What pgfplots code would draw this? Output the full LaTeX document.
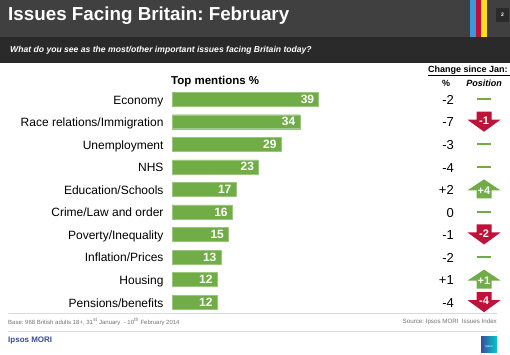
\documentclass[border=0pt]{standalone}
\usepackage{pgfplots}
\pgfplotsset{compat=1.18}
\usepackage{fontspec}
\setmainfont{Liberation Sans}
\frenchspacing
\definecolor{barg}{HTML}{70AD47}
\definecolor{arrred}{HTML}{BE1238}
\definecolor{band1}{HTML}{404040}
\definecolor{band2}{HTML}{2A2A2A}
\definecolor{ipblue}{HTML}{3B4C9B}
\newcommand{\fs}[1]{\fontsize{#1}{#1}\selectfont}
\pgfdeclareplotmark{dnarrow}{%
 \pgfpathmoveto{\pgfqpoint{-7.5pt}{10pt}}%
 \pgfpathlineto{\pgfqpoint{7.5pt}{10pt}}%
 \pgfpathlineto{\pgfqpoint{7.5pt}{2pt}}%
 \pgfpathlineto{\pgfqpoint{16.5pt}{2pt}}%
 \pgfpathlineto{\pgfqpoint{0pt}{-10pt}}%
 \pgfpathlineto{\pgfqpoint{-16.5pt}{2pt}}%
 \pgfpathlineto{\pgfqpoint{-7.5pt}{2pt}}%
 \pgfpathclose\pgfusepathqfill}
\pgfdeclareplotmark{uparrow}{%
 \pgfpathmoveto{\pgfqpoint{-7.5pt}{-9pt}}%
 \pgfpathlineto{\pgfqpoint{7.5pt}{-9pt}}%
 \pgfpathlineto{\pgfqpoint{7.5pt}{-1pt}}%
 \pgfpathlineto{\pgfqpoint{16.5pt}{-1pt}}%
 \pgfpathlineto{\pgfqpoint{0pt}{10pt}}%
 \pgfpathlineto{\pgfqpoint{-16.5pt}{-1pt}}%
 \pgfpathlineto{\pgfqpoint{-7.5pt}{-1pt}}%
 \pgfpathclose\pgfusepathqfill}
\begin{document}
\begin{tikzpicture}
\path[use as bounding box, fill=white] (0pt,0pt) rectangle (510pt,-354pt);
% header
\fill[band1] (0pt,0pt) rectangle (510pt,-37pt);
\fill[band2] (0pt,-37pt) rectangle (510pt,-63pt);
\fill[cyan!70!blue!80] (470pt,0pt) rectangle (475.5pt,-37pt);
\fill[arrred] (475.5pt,0pt) rectangle (481pt,-37pt);
\fill[yellow!80!orange!90] (481pt,0pt) rectangle (487pt,-37pt);
\fill[band2] (496pt,-8pt) rectangle (509pt,-22pt);
\node[text=white, font=\bfseries\fs{5}] at (502.5pt,-15pt) {2};
\node[anchor=west, text=white, font=\bfseries\fs{18.8}, inner sep=0pt] at (8pt,-15.5pt) {Issues Facing Britain: February};
\node[anchor=west, text=white, font=\bfseries\itshape\fs{8.6}, inner sep=0pt] at (10pt,-50pt) {What do you see as the most/other important issues facing Britain today?};
% column headers
\node[anchor=west, font=\bfseries\fs{11.5}, inner sep=0pt] at (171pt,-82pt) {Top mentions \%};
\node[anchor=west, font=\bfseries\fs{9}, inner sep=0pt] (cs) at (428pt,-70pt) {Change since Jan:};
\draw[line width=0.6pt] (428pt,-75pt) -- (510pt,-75pt);
\node[font=\bfseries\fs{9}, inner sep=0pt] at (446pt,-83pt) {\%};
\node[font=\bfseries\itshape\fs{9}, inner sep=0pt] at (484pt,-83pt) {Position};
% bars
\begin{axis}[
  at={(172pt,-87.9pt)}, anchor=north west,
  width=150.4pt, height=225.5pt, scale only axis,
  xbar, bar width=14pt,
  xmin=0, xmax=40, ymin=-0.5, ymax=9.5, y dir=reverse,
  enlargelimits=false, clip=false,
  axis x line=none, axis y line=left,
  y axis line style={draw=none}, major tick length=0pt,
  ytick={0,...,9},
  yticklabels={Economy,Race relations/Immigration,Unemployment,NHS,Education/Schools,Crime/Law and order,Poverty/Inequality,Inflation/Prices,Housing,Pensions/benefits},
  yticklabel style={font=\fs{12}, anchor=east, xshift=-5pt, yshift=-1.8pt, text height=8.8pt, text depth=2.6pt},
  nodes near coords,
  every node near coord/.append style={anchor=east, text=white, font=\bfseries\fs{12}, xshift=-1pt},
  /pgf/number format/assume math mode=true,
]
\addplot[fill=barg, draw=barg!70!white] coordinates {
(39,0) (34,1) (29,2) (23,3) (17,4) (16,5) (15,6) (13,7) (12,8) (12,9)};
\end{axis}
% change column
\begin{axis}[
  at={(330pt,-87.9pt)}, anchor=north west,
  width=180pt, height=225.5pt, scale only axis,
  xmin=330, xmax=510, ymin=-0.5, ymax=9.5, y dir=reverse,
  hide axis, clip=false,
]
\addplot[draw=none, nodes near coords, point meta=explicit symbolic,
  every node near coord/.style={anchor=east, font=\fs{13}, text=black, inner sep=0pt, text height=9.4pt, text depth=0pt, yshift=-0.5pt}]
 coordinates {(454,0) [-2] (454,1) [-7] (454,2) [-3] (454,3) [-4] (454,4) [+2]
  (454,5) [0] (454,6) [-1] (454,7) [-2] (454,8) [+1] (454,9) [-4]};
\addplot[only marks, mark=-, mark size=7pt, barg, mark options={line width=1.8pt}]
 coordinates {(484,0) (484,2) (484,3) (484,5) (484,7)};
\addplot[only marks, mark=dnarrow, color=arrred, nodes near coords, point meta=explicit symbolic,
  every node near coord/.style={anchor=center, text=white, font=\bfseries\fs{11}, inner sep=0pt, yshift=1pt}]
 coordinates {(484,1) [-1] (484,6) [-2] (484,9) [-4]};
\addplot[only marks, mark=uparrow, color=barg, nodes near coords, point meta=explicit symbolic,
  every node near coord/.style={anchor=center, text=white, font=\bfseries\fs{11}, inner sep=0pt, yshift=-1.5pt}]
 coordinates {(484,4) [+4] (484,8) [+1]};
\end{axis}
% footer
\draw[black!15, line width=0.6pt] (8pt,-313pt) -- (497pt,-313pt);
\draw[black!15, line width=0.6pt] (8pt,-331pt) -- (497pt,-331pt);
\node[anchor=west, text=black!55, font=\fs{6}, inner sep=0pt] at (8pt,-322pt) {Base: 968 British adults 18+, 31\textsuperscript{st} January \ - 10\textsuperscript{th} February 2014};
\node[anchor=east, text=black!55, font=\fs{6.2}, inner sep=0pt] at (497pt,-322pt) {Source: Ipsos MORI \ Issues Index};
\node[anchor=west, text=ipblue, font=\bfseries\fs{8}, inner sep=0pt] at (8pt,-341pt) {Ipsos MORI};
\shade[left color=ipblue, right color=cyan!60!teal] (481pt,-336pt) rectangle (497pt,-352pt);
\node[text=white, font=\fs{3}, inner sep=0pt] at (489pt,-347pt) {Ipsos};
\end{tikzpicture}
\end{document}
